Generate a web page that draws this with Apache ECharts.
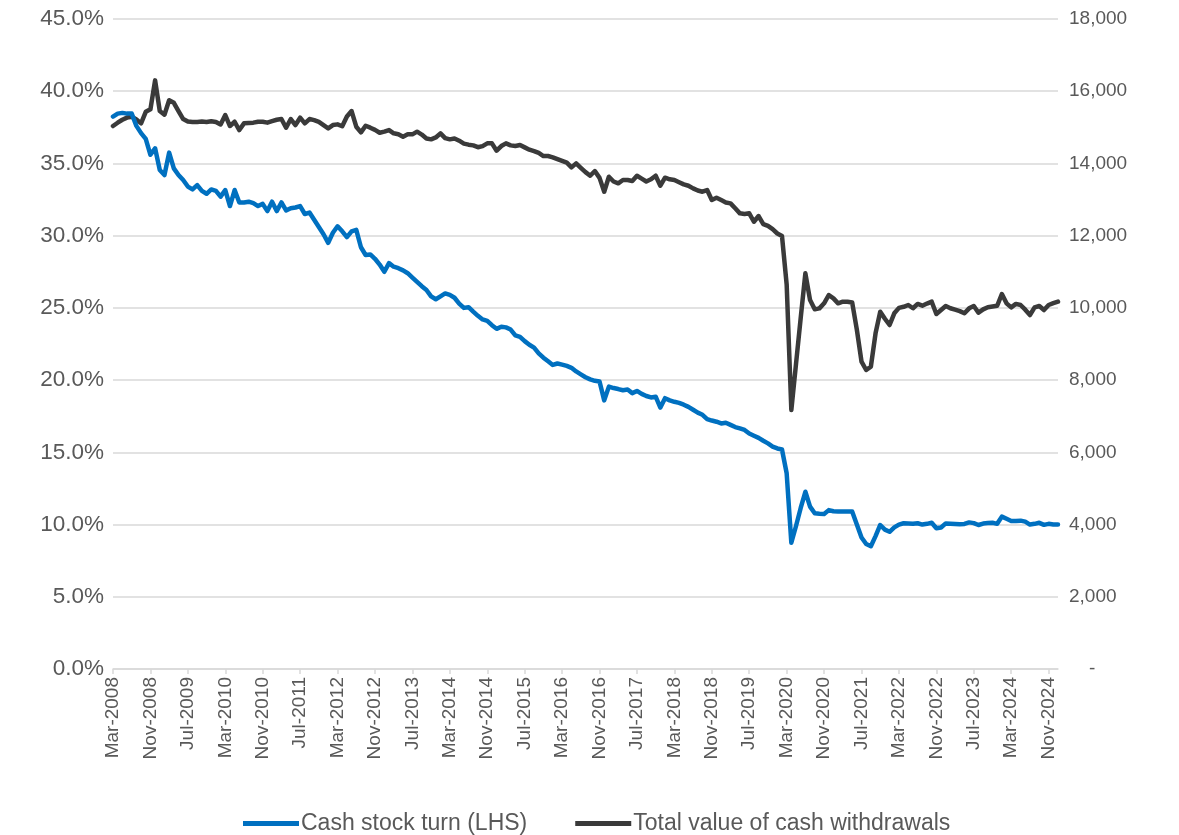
<!DOCTYPE html>
<html>
<head>
<meta charset="utf-8">
<script src="https://cdn.jsdelivr.net/npm/echarts@6/dist/echarts.min.js"></script>
<style>
  html, body { margin: 0; padding: 0; background: #ffffff; }
  #chart { width: 1179px; height: 835px; }
</style>
</head>
<body>
<div id="chart"></div>
<script>
// Monthly series, Mar-2008 to Jan-2025
const MONTH_NAMES = ['Jan','Feb','Mar','Apr','May','Jun','Jul','Aug','Sep','Oct','Nov','Dec'];
const START_YEAR = 2008;
const START_MONTH = 2; // March

// Cash stock turn (LHS), per cent
const cashStockTurn = [
  38.24, 38.45, 38.5, 38.45, 38.45, 37.6, 37.1, 36.7, 35.6, 36.05,
  34.55, 34.2, 35.75, 34.66, 34.2, 33.85, 33.4, 33.2, 33.5, 33.1,
  32.9, 33.2, 33.1, 32.7, 33.16, 32.05, 33.16, 32.3, 32.3, 32.35,
  32.25, 32.05, 32.2, 31.7, 32.35, 31.7, 32.3, 31.75, 31.9, 31.95,
  32.05, 31.5, 31.6, 31.1, 30.6, 30.1, 29.5, 30.2, 30.65, 30.3,
  29.9, 30.3, 30.4, 29.2, 28.66, 28.7, 28.4, 28.0, 27.5, 28.1,
  27.85, 27.75, 27.6, 27.4, 27.1, 26.8, 26.5, 26.24, 25.8, 25.6,
  25.8, 26.0, 25.9, 25.7, 25.3, 25.0, 25.05, 24.74, 24.45, 24.2,
  24.1, 23.8, 23.55, 23.7, 23.65, 23.5, 23.1, 23.0, 22.7, 22.45,
  22.25, 21.85, 21.55, 21.3, 21.05, 21.15, 21.07, 20.98, 20.85, 20.6,
  20.4, 20.2, 20.05, 19.95, 19.9, 18.6, 19.55, 19.45, 19.38, 19.3,
  19.35, 19.1, 19.25, 19.05, 18.9, 18.8, 18.85, 18.1, 18.75, 18.6,
  18.5, 18.42, 18.3, 18.15, 17.95, 17.75, 17.6, 17.3, 17.2, 17.12,
  17.0, 17.05, 16.9, 16.75, 16.66, 16.55, 16.3, 16.15, 16.0, 15.8,
  15.62, 15.4, 15.27, 15.2, 13.55, 8.74, 9.9, 11.15, 12.27, 11.24,
  10.78, 10.75, 10.73, 11.0, 10.92, 10.9, 10.9, 10.9, 10.9, 10.0,
  9.1, 8.65, 8.5, 9.2, 9.97, 9.65, 9.5, 9.8, 10.0, 10.09,
  10.07, 10.05, 10.09, 10.0, 10.05, 10.12, 9.74, 9.8, 10.08, 10.06,
  10.04, 10.02, 10.04, 10.15, 10.1, 9.97, 10.07, 10.1, 10.12, 10.05,
  10.55, 10.4, 10.25, 10.25, 10.27, 10.2, 10.0, 10.05, 10.12, 9.98,
  10.05, 10.0, 10.0
];

// Total value of cash withdrawals (RHS)
const cashWithdrawals = [
  15036, 15128, 15210, 15270, 15294, 15220, 15110, 15430, 15500, 16300,
  15450, 15350, 15750, 15680, 15450, 15230, 15160, 15150, 15150, 15160,
  15150, 15170, 15150, 15080, 15340, 15036, 15155, 14925, 15110, 15120,
  15130, 15155, 15155, 15130, 15173, 15210, 15230, 14990, 15230, 15063,
  15267, 15110, 15230, 15200, 15150, 15060, 14972, 15063, 15082, 15030,
  15300, 15451, 15017, 14860, 15045, 14990, 14930, 14850, 14880, 14925,
  14834, 14810, 14740, 14806, 14806, 14880, 14800, 14690, 14667, 14720,
  14834, 14700, 14667, 14690, 14630, 14550, 14520, 14500, 14450, 14480,
  14556, 14556, 14353, 14482, 14556, 14500, 14482, 14510, 14445, 14380,
  14340, 14290, 14205, 14205, 14170, 14120, 14070, 14020, 13892, 14002,
  13880, 13760, 13660, 13790, 13600, 13217, 13632, 13500, 13449, 13541,
  13541, 13513, 13660, 13580, 13500, 13560, 13660, 13383, 13605, 13560,
  13541, 13480, 13420, 13383, 13310, 13250, 13217, 13264, 12987, 13051,
  12987, 12920, 12895, 12757, 12618, 12600, 12618, 12386, 12544, 12322,
  12270, 12180, 12060, 11990, 10650, 7172, 8450, 9720, 10957, 10218,
  9960, 9987, 10126, 10357, 10264, 10126, 10172, 10172, 10150, 9400,
  8510, 8280, 8372, 9295, 9894, 9700, 9526, 9850, 10000, 10030,
  10080, 9990, 10110, 10060, 10120, 10172, 9830, 9941, 10052, 9990,
  9950, 9910, 9850, 9987, 10052, 9867, 9960, 10020, 10040, 10060,
  10384, 10126, 10015, 10110, 10080, 9950, 9802, 10015, 10052, 9941,
  10080, 10130, 10172
];

// Axis ranges
const leftAxis = { min: 0, max: 45, step: 5 };
const rightAxis = { min: 0, max: 18000, step: 2000 };

const categories = cashStockTurn.map((_, i) => {
  const m = START_MONTH + i;
  return MONTH_NAMES[m % 12] + '-' + (START_YEAR + Math.floor(m / 12));
});

const FONT = '"Liberation Sans", Arial, sans-serif';
const TEXT = '#595959';
const GRID = '#d9d9d9';

const chart = echarts.init(document.getElementById('chart'), null, { renderer: 'canvas' });
chart.setOption({
  animation: false,
  backgroundColor: '#ffffff',
  textStyle: { fontFamily: FONT },
  grid: { left: 113, right: 121, top: 19, bottom: 166, containLabel: false },
  legend: {
    bottom: -5,
    left: 238,
    itemGap: 48,
    itemWidth: 56,
    itemHeight: 5,
    icon: 'rect',
    textStyle: { fontFamily: FONT, fontSize: 23, color: TEXT, padding: [0, 0, 0, -3] },
    data: ['Cash stock turn (LHS)', 'Total value of cash withdrawals']
  },
  xAxis: {
    type: 'category',
    data: categories,
    boundaryGap: false,
    axisLine: { lineStyle: { color: GRID, width: 1.5 } },
    axisTick: { show: true, interval: 7, length: 5, lineStyle: { color: GRID, width: 1.5 } },
    axisLabel: {
      interval: 7, rotate: 90, margin: 8,
      fontFamily: FONT, fontSize: 19, color: TEXT
    },
    splitLine: { show: false }
  },
  yAxis: [
    {
      type: 'value',
      min: leftAxis.min, max: leftAxis.max, interval: leftAxis.step,
      axisLine: { show: false }, axisTick: { show: false },
      axisLabel: {
        margin: 9, fontFamily: FONT, fontSize: 22.5, color: TEXT,
        formatter: v => v.toFixed(1) + '%'
      },
      splitLine: { show: true, lineStyle: { color: GRID, width: 1.5 } }
    },
    {
      type: 'value',
      min: rightAxis.min, max: rightAxis.max, interval: rightAxis.step,
      position: 'right',
      axisLine: { show: false }, axisTick: { show: false },
      axisLabel: {
        margin: 11, fontFamily: FONT, fontSize: 19, color: TEXT, align: 'left',
        formatter: v => v === 0 ? '{d|-}' : v.toLocaleString('en-US'),
        rich: { d: { fontFamily: FONT, fontSize: 19, color: TEXT, padding: [0, 0, 0, 20] } }
      },
      splitLine: { show: false }
    }
  ],
  series: [
    {
      name: 'Cash stock turn (LHS)',
      type: 'line',
      yAxisIndex: 0,
      data: cashStockTurn,
      showSymbol: false,
      symbol: 'none',
      color: '#0070c0',
      lineStyle: { color: '#0070c0', width: 4.5, cap: 'round', join: 'round' },
      z: 3
    },
    {
      name: 'Total value of cash withdrawals',
      type: 'line',
      yAxisIndex: 1,
      data: cashWithdrawals,
      showSymbol: false,
      symbol: 'none',
      color: '#3a3a3a',
      lineStyle: { color: '#3a3a3a', width: 4.5, cap: 'round', join: 'round' },
      z: 2
    }
  ]
});
</script>
</body>
</html>
